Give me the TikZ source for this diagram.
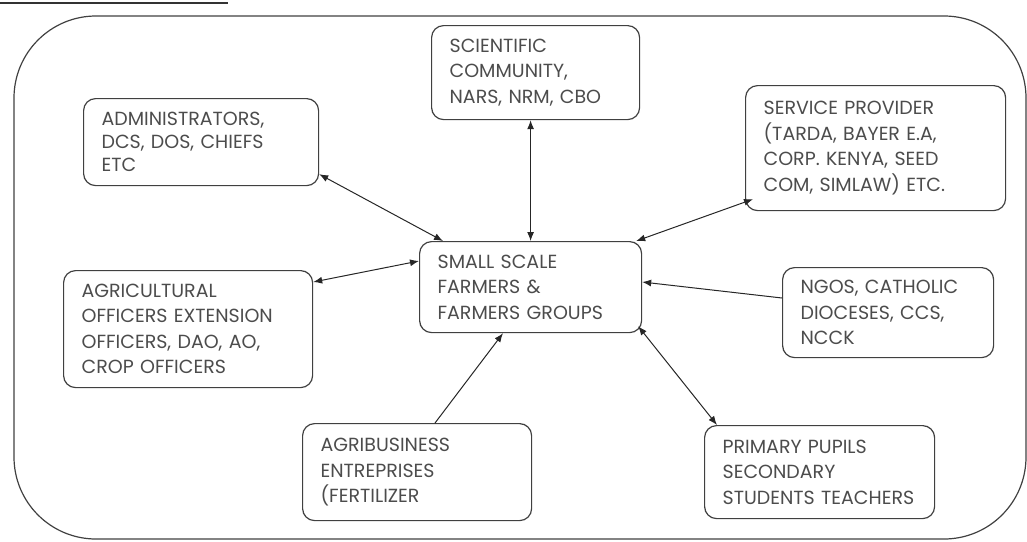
\documentclass[tikz,border=0pt]{standalone}
\usepackage{fontspec}
\setmainfont{Poppins}
\usetikzlibrary{arrows.meta}
\newcommand\boxfont{\fontsize{19}{25.5}\selectfont}
\tikzset{
	box/.style={draw=black!75, line width=1.2pt, rounded corners=12pt, anchor=north west, align=left, inner xsep=18pt, inner ysep=0pt, font=\boxfont, text=black!70},
	link/.style={draw=black!85, line width=1pt},
}

\begin{document}
\begin{tikzpicture}[x=1pt, y=-1pt, >={Latex[length=9pt,width=7pt]}]
			%%%%% START %%%%%
			\useasboundingbox (0, 0) rectangle (1027, 541);
			
			\draw[line width=2pt, color=black!80] (0, 3) -- (228, 3);
			\draw[line width=1.2pt, color=black!75, rounded corners=82pt] (14, 16) rectangle (1026, 539);
			
			\node[box, minimum height=91pt, text width=186pt] (hub) at (419, 241) {SMALL SCALE\\FARMERS \&\\FARMERS GROUPS};
			
			\node[box, minimum height=94pt, text width=172pt] (sci) at (431, 25) {SCIENTIFIC\\COMMUNITY,\\NARS, NRM, CBO};
			\node[box, minimum height=87pt, text width=199pt, font=\fontsize{19}{23}\selectfont] (admin) at (83, 98) {ADMINISTRATORS,\\DCS, DOS, CHIEFS\\ETC};
			\node[box, minimum height=125pt, text width=224pt] (svc) at (745, 85) {SERVICE PROVIDER\\(TARDA, BAYER E.A,\\CORP. KENYA, SEED\\COM, SIMLAW) ETC.};
			\node[box, minimum height=117pt, text width=213pt] (offi) at (63, 270) {AGRICULTURAL\\OFFICERS EXTENSION\\OFFICERS, DAO, AO,\\CROP OFFICERS};
			\node[box, minimum height=90pt, text width=175pt] (ngo) at (782, 267) {NGOS, CATHOLIC\\DIOCESES, CCS,\\NCCK};
			\node[box, minimum height=97pt, text width=193pt] (agri) at (302, 423) {AGRIBUSINESS\\ENTREPRISES\\(FERTILIZER};
			\node[box, minimum height=93pt, text width=194pt] (prim) at (704, 425) {PRIMARY PUPILS\\SECONDARY\\STUDENTS TEACHERS};
			
			\draw[link, <->] ([yshift=12pt]admin.south east) -- ([xshift=24pt]hub.north west);
			\draw[link, <->] (sci.south -| hub.north) -- (hub.north);
			\draw[link, <->] ([xshift=8pt, yshift=12pt]svc.south west) -- ([xshift=-6pt]hub.north east);
			\draw[link, <->] ([yshift=-12pt]offi.north east) -- ([yshift=-20pt]hub.north west);
			\draw[link, ->] ([yshift=-31pt]ngo.north west) -- ([yshift=-41pt]hub.north east);
			\draw[link, ->] ([xshift=133pt]agri.north west) -- ([xshift=84pt]hub.south west);
			\draw[link, <->] ([xshift=-4pt, yshift=7pt]hub.south east) -- ([xshift=13pt]prim.north west);
			
			%%%%% END %%%%%
		\end{tikzpicture}
\end{document}
